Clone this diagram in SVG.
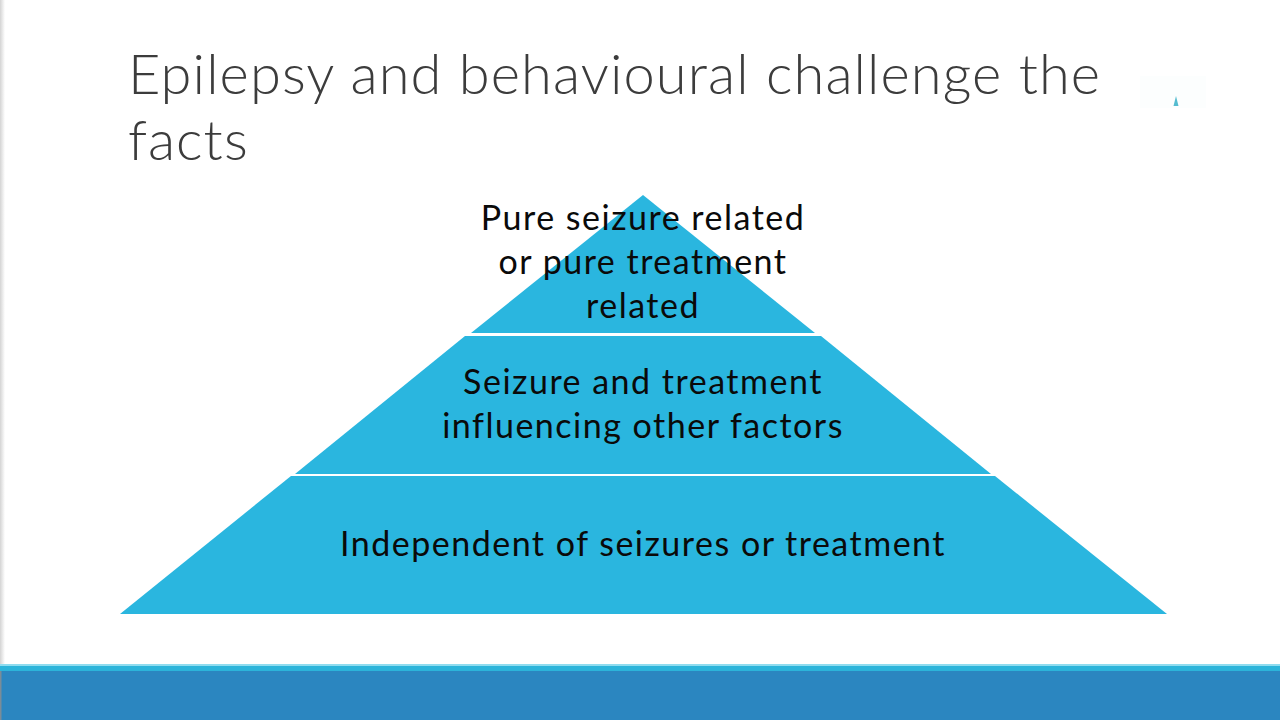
<svg xmlns="http://www.w3.org/2000/svg" width="1280" height="720" viewBox="0 0 1280 720">
<defs><linearGradient id="edge" x1="0" x2="1" y1="0" y2="0"><stop offset="0" stop-color="#d4d4d4"/><stop offset="1" stop-color="#ffffff"/></linearGradient></defs>
<style>
.title{font-family:"Lato","Liberation Sans",sans-serif;font-weight:300;font-size:56px;fill:#3c3c3c;letter-spacing:1.1px}
.lbl{font-family:"Lato","Liberation Sans",sans-serif;font-size:34px;fill:#0a0a0a;text-anchor:middle;letter-spacing:1.5px}
.tier{fill:#2ab6df}
</style>
<rect width="1280" height="720" fill="#ffffff"/>
<rect x="0" y="0" width="5" height="665" fill="url(#edge)"/>
<g id="footer">
<rect x="0" y="664" width="1280" height="2" fill="#8fdcef"/>
<rect x="0" y="666" width="1280" height="5" fill="#2cb4da"/>
<rect x="0" y="671" width="1280" height="49" fill="#2b86c0"/>
<rect x="0" y="671" width="1.500" height="49" fill="#7a8c98"/>
</g>
<g id="title">
<text class="title" x="128" y="93.500">Epilepsy and behavioural challenge the</text>
<text class="title" x="128" y="159.500">facts</text>
</g>
<g id="watermark">
<rect x="1140" y="76" width="66" height="32" fill="#fcfefe"/>
<path d="M1176 96L1178.500 106L1173.500 106Z" fill="#55bcd0"/>
</g>
<g id="tier-top">
<path class="tier" d="M643 195L815 333H471Z"/>
<text class="lbl" x="643" y="230">Pure seizure related</text>
<text class="lbl" x="643" y="274">or pure treatment</text>
<text class="lbl" x="643" y="318">related</text>
</g>
<g id="tier-middle">
<path class="tier" d="M821 336L991 474H295L465 336Z"/>
<text class="lbl" x="643" y="394">Seizure and treatment</text>
<text class="lbl" x="643" y="438">influencing other factors</text>
</g>
<g id="tier-bottom">
<path class="tier" d="M995 476L1167 614H120L291 476Z"/>
<text class="lbl" x="643" y="556">Independent of seizures or treatment</text>
</g>
<g id="connectors"/>
</svg>
